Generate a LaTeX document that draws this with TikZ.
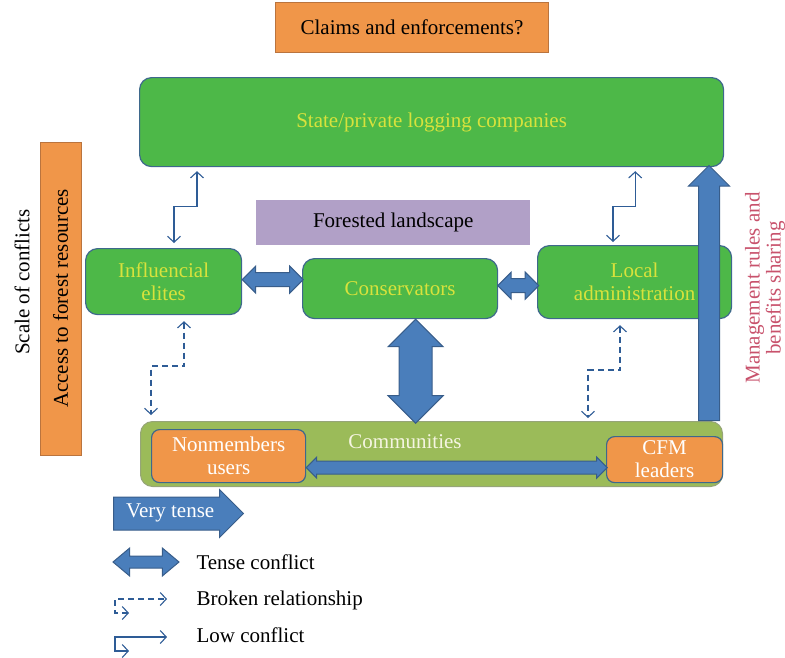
\documentclass[tikz,border=0pt]{standalone}
\usepackage{fontspec}
\setmainfont{Liberation Serif}
\usetikzlibrary{arrows.meta,positioning,shapes.arrows,calc}
\definecolor{boxgreen}{RGB}{77,184,72}
\definecolor{boxline}{RGB}{62,104,140}
\definecolor{labelyellow}{RGB}{216,226,60}
\definecolor{boxorange}{RGB}{240,150,73}
\definecolor{orangeline}{RGB}{186,116,62}
\definecolor{olivegreen}{RGB}{155,187,89}
\definecolor{oliveline}{RGB}{150,165,120}
\definecolor{landpurple}{RGB}{177,160,199}
\definecolor{arrowblue}{RGB}{74,126,187}
\definecolor{arrowline}{RGB}{56,93,138}
\definecolor{linkblue}{RGB}{46,92,150}
\definecolor{rulered}{RGB}{200,82,108}

\begin{document}
\begin{tikzpicture}[
      x=1pt, y=-1pt,
      every node/.style={font=\fontsize{21}{23}\selectfont},
      actor/.style={
          rectangle,
          draw=boxline,
          line width=1.2pt,
          fill=boxgreen,
          rounded corners=12pt,
          text=labelyellow,
          align=center,
          anchor=north west,
          inner sep=2pt
        },
      member/.style={
          rectangle,
          draw=boxline,
          line width=1.2pt,
          fill=boxorange,
          rounded corners=8pt,
          text=white,
          align=center,
          anchor=north west,
          inner sep=2pt
        },
      issue/.style={rectangle, draw=orangeline, line width=1pt, fill=boxorange},
      tense/.style={double arrow, draw=arrowline, line width=1pt, fill=arrowblue,
          inner sep=0pt, minimum width=0pt},
      verytense/.style={single arrow, draw=arrowline, line width=1pt, fill=arrowblue,
          inner sep=0pt, minimum width=0pt},
      low/.style={linkblue, line width=1.1pt,
          {Straight Barb[length=6pt,width=13pt]}-{Straight Barb[length=6pt,width=13pt]}},
      broken/.style={low, dash pattern=on 6pt off 4pt}
    ]
    \useasboundingbox (0,0) rectangle (785,657);

    \node[issue, anchor=north west, minimum width=273pt, minimum height=50pt] (claims) at (275,2) {Claims and enforcements?};

    \node[actor, minimum width=584pt, minimum height=89pt] (logging) at (139,77) {State/private logging companies};

    \node[issue, rotate=90, minimum width=313pt, minimum height=41pt] (access) at (60.5,298.5) {Access to forest resources};
    \node[rotate=90] (scale) at (22,282) {Scale of conflicts};

    \node[rectangle, fill=landpurple, anchor=north west, minimum width=274pt, minimum height=45pt] (forest) at (256,200) {Forested landscape};

    \node[actor, minimum width=156pt, minimum height=66pt] (elites) at (85,248) {Influencial\\elites};
    \node[actor, minimum width=195pt, minimum height=60pt] (cons) at (302,258) {Conservators};
    \node[actor, minimum width=194pt, minimum height=73pt] (local) at (537,245) {Local\\administration};

    \node[rectangle, draw=oliveline, line width=1pt, fill=olivegreen, rounded corners=12pt, anchor=north west,
      minimum width=582pt, minimum height=65pt] (comm) at (140,421) {};
    \node[text={rgb,255:red,245;green,245;blue,225}] (commlbl) at (405,442) {Communities};
    \node[member, minimum width=154pt, minimum height=53pt] (nonmem) at (151,429) {Nonmembers\\users};
    \node[member, minimum width=116pt, minimum height=46pt] (cfm) at (606,436) {CFM\\leaders};

    \node[text=rulered, rotate=90, align=center, font=\fontsize{21}{21}\selectfont] (rules) at (765,288) {Management rules and\\benefits sharing};

    \node[tense, minimum height=61pt, inner ysep=6.5pt, double arrow head extend=6.5pt] (elitescons) at ($(elites.east)+(30.5,-2)$) {};
    \node[tense, minimum height=41pt, inner ysep=6.5pt, double arrow head extend=6.5pt] (conslocal) at ($(cons.east)+(20,-3)$) {};
    \node[tense, rotate=90, minimum height=104pt, inner ysep=16pt, double arrow head extend=11pt] (conscomm) at ($(cons.south)+(15.5,52)$) {};
    \node[tense, minimum height=301pt, inner ysep=6pt, double arrow head extend=4pt] (nonmemcfm) at ($(nonmem.east)+(150.5,11.5)$) {};
    \node[verytense, rotate=90, anchor=tail, minimum height=255pt, inner ysep=10pt, single arrow head extend=10pt] (rulesup) at ($(comm.north east)+(-14,0)$) {};

    \draw[low] ($(elites.north west)+(89,-5)$) |- ($(logging.south west)+(58,39)$) -- ($(logging.south west)+(58,4)$);
    \draw[low] ($(local.north west)+(76,-3)$) |- ($(logging.south east)+(-89,39)$) -- ($(logging.south east)+(-89,4)$);
    \draw[broken] ($(elites.south west)+(99,6)$) |- ($(comm.north west)+(11,-55)$) -- ($(comm.north west)+(11,-6)$);
    \draw[broken] ($(local.south west)+(83,6)$) |- ($(comm.north east)+(-135,-51)$) -- ($(comm.north east)+(-135,-3)$);

    \node[verytense, anchor=tail, minimum height=130pt, inner ysep=7pt, text height=13pt, text depth=5pt, inner xsep=6pt,
      single arrow head extend=7.5pt, text=white] (verylbl) at (113,513.5) {Very tense};

    \node[anchor=west] (tenselbl) at (193,562) {Tense conflict};
    \node[tense, minimum height=66pt, inner ysep=5.5pt, double arrow head extend=8pt, double arrow tip angle=80] (tensekey) at ($(tenselbl.west)+(-47,0)$) {};

    \node[anchor=west] (brokenlbl) at (193,600) {Broken relationship};
    \draw[broken] ($(brokenlbl.west)+(-64,13)$) -| ($(brokenlbl.west)+(-78,-1)$) -- ($(brokenlbl.west)+(-26,-1)$);

    \node[anchor=west] (lowlbl) at (193,635) {Low conflict};
    \draw[low] ($(lowlbl.west)+(-64,16)$) -| ($(lowlbl.west)+(-78,2)$) -- ($(lowlbl.west)+(-26,2)$);
  \end{tikzpicture}
\end{document}
